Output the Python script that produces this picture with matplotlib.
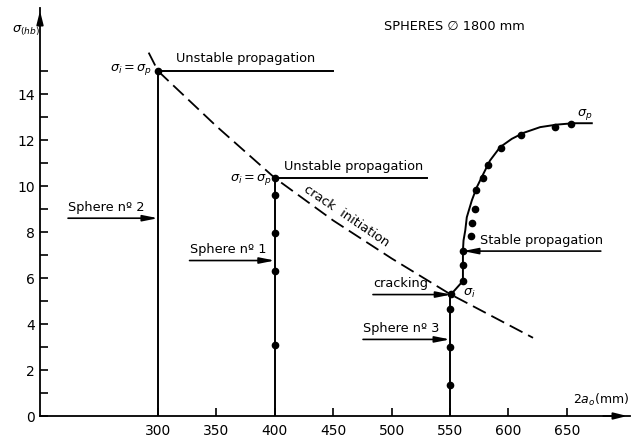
import matplotlib.pyplot as plt

# --- data ---
# crack initiation curve (dashed)
crack_x = [292, 300, 350, 400, 450, 500, 550, 621]
crack_y = [15.8, 15.0, 12.6, 10.35, 8.5, 6.85, 5.3, 3.4]

# sphere no 2 : unstable propagation at 300 mm
s2_x = 300
s2_top = 15.0

# sphere no 1 : measured points at 400 mm
s1_x = 400
s1_y = [3.1, 6.3, 7.95, 9.6, 10.35]

# sphere no 3 : vertical part at 550 mm, then stable propagation curve
s3_x0 = 550
s3_crack = 5.3
s3_curve_x = [551, 561, 561, 561, 561.5, 563, 564.3, 568.6, 572.9, 578.5, 584.2,
              592.8, 602.8, 612.8, 627.1, 641.4, 655.6, 671.3]
s3_curve_y = [5.3, 5.87, 6.56, 7.17, 7.63, 8.07, 8.64, 9.37, 9.95, 10.53, 11.11,
              11.69, 12.05, 12.31, 12.56, 12.67, 12.73, 12.73]
s3_pts_x = [550, 550, 550, 551, 561, 561, 561, 567.7, 568.5, 571.4, 572, 578.5,
            582.3, 593.4, 610.8, 639.9, 653.3]
s3_pts_y = [1.35, 3.0, 4.65, 5.3, 5.87, 6.56, 7.17, 7.83, 8.4, 8.98, 9.81, 10.36,
            10.9, 11.67, 12.2, 12.58, 12.68]

x_ticks = [300, 350, 400, 450, 500, 550, 600, 650]
y_ticks = [0, 2, 4, 6, 8, 10, 12, 14]
y_minor = [1, 3, 5, 7, 9, 11, 13, 15]

plt.rcParams['font.family'] = ['DejaVu Sans']
plt.rcParams['mathtext.fontset'] = 'dejavusans'

fs = 9.3

fig = plt.figure(figsize=(6.31, 4.38), dpi=100)
ax = fig.add_axes([40 / 631, 22 / 438, 590 / 631, 408 / 438])
ax.set_xlim(199, 704)
ax.set_ylim(0, 17.74)

for s in ['top', 'right']:
    ax.spines[s].set_visible(False)
for s in ['left', 'bottom']:
    ax.spines[s].set_linewidth(1.3)

# axis arrows
ax.annotate('', xy=(0, 1.0), xytext=(0, 0.95), xycoords='axes fraction',
            arrowprops=dict(arrowstyle='-|>,head_length=0.8,head_width=0.2', lw=1.3, color='k'))
ax.annotate('', xy=(1.0, 0), xytext=(0.95, 0), xycoords='axes fraction',
            arrowprops=dict(arrowstyle='-|>,head_length=0.8,head_width=0.2', lw=1.3, color='k'))

ax.set_xticks(x_ticks)
ax.set_yticks(y_ticks)
ax.set_yticks(y_minor, minor=True)
ax.tick_params(axis='both', direction='in', length=6, width=1.2, labelsize=10)
ax.tick_params(axis='y', which='minor', direction='in', length=6, width=1.2)
ax.tick_params(axis='x', pad=6)

lw = 1.4
ms = 4.5

# crack initiation
ax.plot(crack_x, crack_y, color='k', lw=1.3, linestyle=(0, (8, 3.5)))
ax.text(461, 8.68, 'crack  initiation', rotation=-34, rotation_mode='anchor',
        ha='center', va='center', fontsize=fs)

# sphere 2
ax.plot([s2_x, s2_x], [0, s2_top], color='k', lw=lw)
ax.plot([s2_x, 450], [s2_top, s2_top], color='k', lw=lw)
ax.plot([s2_x], [s2_top], 'ko', ms=ms)
ax.text(315, 15.25, 'Unstable propagation', fontsize=fs, va='bottom')
ax.text(295, 15.05, r'$\sigma_i=\sigma_p$', fontsize=fs, ha='right', va='center')

# sphere 1
ax.plot([s1_x, s1_x], [0, s1_y[-1]], color='k', lw=lw)
ax.plot([s1_x, 530], [s1_y[-1], s1_y[-1]], color='k', lw=lw)
ax.plot([s1_x] * len(s1_y), s1_y, 'ko', ms=ms)
ax.text(408, 10.55, 'Unstable propagation', fontsize=fs, va='bottom')
ax.text(397.5, 10.3, r'$\sigma_i=\sigma_p$', fontsize=fs, ha='right', va='center')

# sphere 3
ax.plot([s3_x0, s3_x0], [0, s3_crack], color='k', lw=lw)
ax.plot(s3_curve_x, s3_curve_y, color='k', lw=lw)
ax.plot(s3_pts_x, s3_pts_y, 'ko', ms=ms)
ax.text(561, 5.35, r'$\sigma_i$', fontsize=fs, va='center')
ax.text(659, 13.1, r'$\sigma_p$', fontsize=fs, va='center')

arrow = dict(arrowstyle='-|>,head_length=0.9,head_width=0.18', lw=1.2, color='k',
             shrinkA=0, shrinkB=0)

def label_arrow(text, x0, x1, y):
    ax.annotate('', xy=(x1, y), xytext=(x0, y), arrowprops=arrow)
    ax.text(x0, y + 0.2, text, fontsize=fs, va='bottom')

label_arrow('Sphere nº 2', 223, 300, 8.6)
label_arrow('Sphere nº 1', 327, 400, 6.76)
label_arrow('Sphere nº 3', 475.5, 550, 3.33)
label_arrow('cracking', 484, 551, 5.28)
ax.annotate('', xy=(561, 7.17), xytext=(679, 7.17), arrowprops=arrow)
ax.text(575.5, 7.35, 'Stable propagation', fontsize=fs, va='bottom')

ax.text(655, 0.35, r'$2a_o$(mm)', fontsize=9, va='bottom')
ax.text(554, 16.93, 'SPHERES \u2205 1800 mm', fontsize=fs, ha='center', va='center')
fig.text(12 / 631, 1 - 31 / 438, r'$\sigma_{(hb)}$', fontsize=fs, va='center')

fig.savefig('out.png', dpi=100)
